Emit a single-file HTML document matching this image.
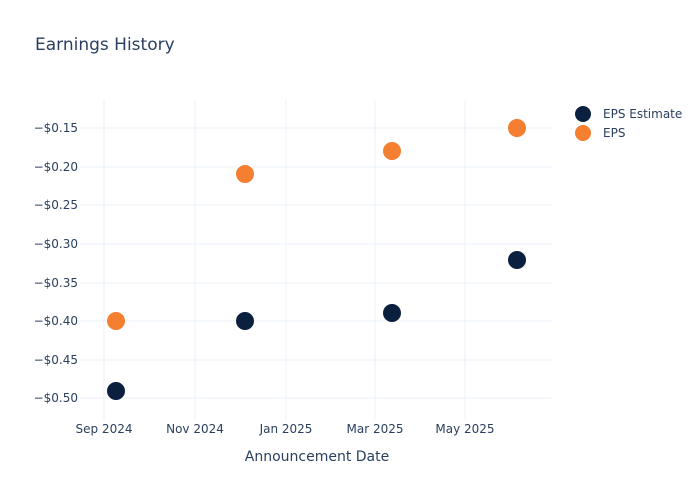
<!DOCTYPE html>
<html><head><meta charset="utf-8"><style>
html,body{margin:0;padding:0;background:#fff;}
svg{display:block;font-family:"DejaVu Sans",sans-serif;}
</style></head><body>
<svg width="700" height="500" viewBox="0 0 700 500" xmlns="http://www.w3.org/2000/svg">
<rect width="700" height="500" fill="#fff"/>
<g stroke="#ebf0f8" stroke-width="1">
<line x1="104" y1="100" x2="104" y2="420"/>
<line x1="195" y1="100" x2="195" y2="420"/>
<line x1="286" y1="100" x2="286" y2="420"/>
<line x1="375" y1="100" x2="375" y2="420"/>
<line x1="465" y1="100" x2="465" y2="420"/>
<line x1="80" y1="128" x2="553" y2="128"/>
<line x1="80" y1="167" x2="553" y2="167"/>
<line x1="80" y1="205" x2="553" y2="205"/>
<line x1="80" y1="244" x2="553" y2="244"/>
<line x1="80" y1="283" x2="553" y2="283"/>
<line x1="80" y1="321" x2="553" y2="321"/>
<line x1="80" y1="360" x2="553" y2="360"/>
<line x1="80" y1="398" x2="553" y2="398"/>
</g>
<g fill="#2a3f5f" font-size="12" text-anchor="end">
<text x="78" y="132">−$0.15</text>
<text x="78" y="171">−$0.20</text>
<text x="78" y="209">−$0.25</text>
<text x="78" y="248">−$0.30</text>
<text x="78" y="287">−$0.35</text>
<text x="78" y="325">−$0.40</text>
<text x="78" y="364">−$0.45</text>
<text x="78" y="402">−$0.50</text>
</g>
<g fill="#2a3f5f" font-size="12" text-anchor="middle">
<text x="104" y="433">Sep 2024</text>
<text x="195" y="433">Nov 2024</text>
<text x="286" y="433">Jan 2025</text>
<text x="375" y="433">Mar 2025</text>
<text x="465" y="433">May 2025</text>
<text x="317" y="461" font-size="14">Announcement Date</text>
</g>
<text x="35" y="50" fill="#2a3f5f" font-size="17">Earnings History</text>
<g fill="#0b1f3f" stroke="#fff" stroke-width="1">
<circle cx="116" cy="391" r="9.5"/>
<circle cx="245" cy="321" r="9.5"/>
<circle cx="392" cy="313" r="9.5"/>
<circle cx="517" cy="260" r="9.5"/>
</g>
<g fill="#f47f30" stroke="#fff" stroke-width="1">
<circle cx="116" cy="321" r="9.5"/>
<circle cx="245" cy="174" r="9.5"/>
<circle cx="392" cy="151" r="9.5"/>
<circle cx="517" cy="128" r="9.5"/>
</g>
<circle cx="583" cy="114" r="8" fill="#0b1f3f"/>
<circle cx="583" cy="133" r="8" fill="#f47f30"/>
<g fill="#2a3f5f" font-size="12">
<text x="603" y="118">EPS Estimate</text>
<text x="603" y="137">EPS</text>
</g>
</svg>
</body></html>
